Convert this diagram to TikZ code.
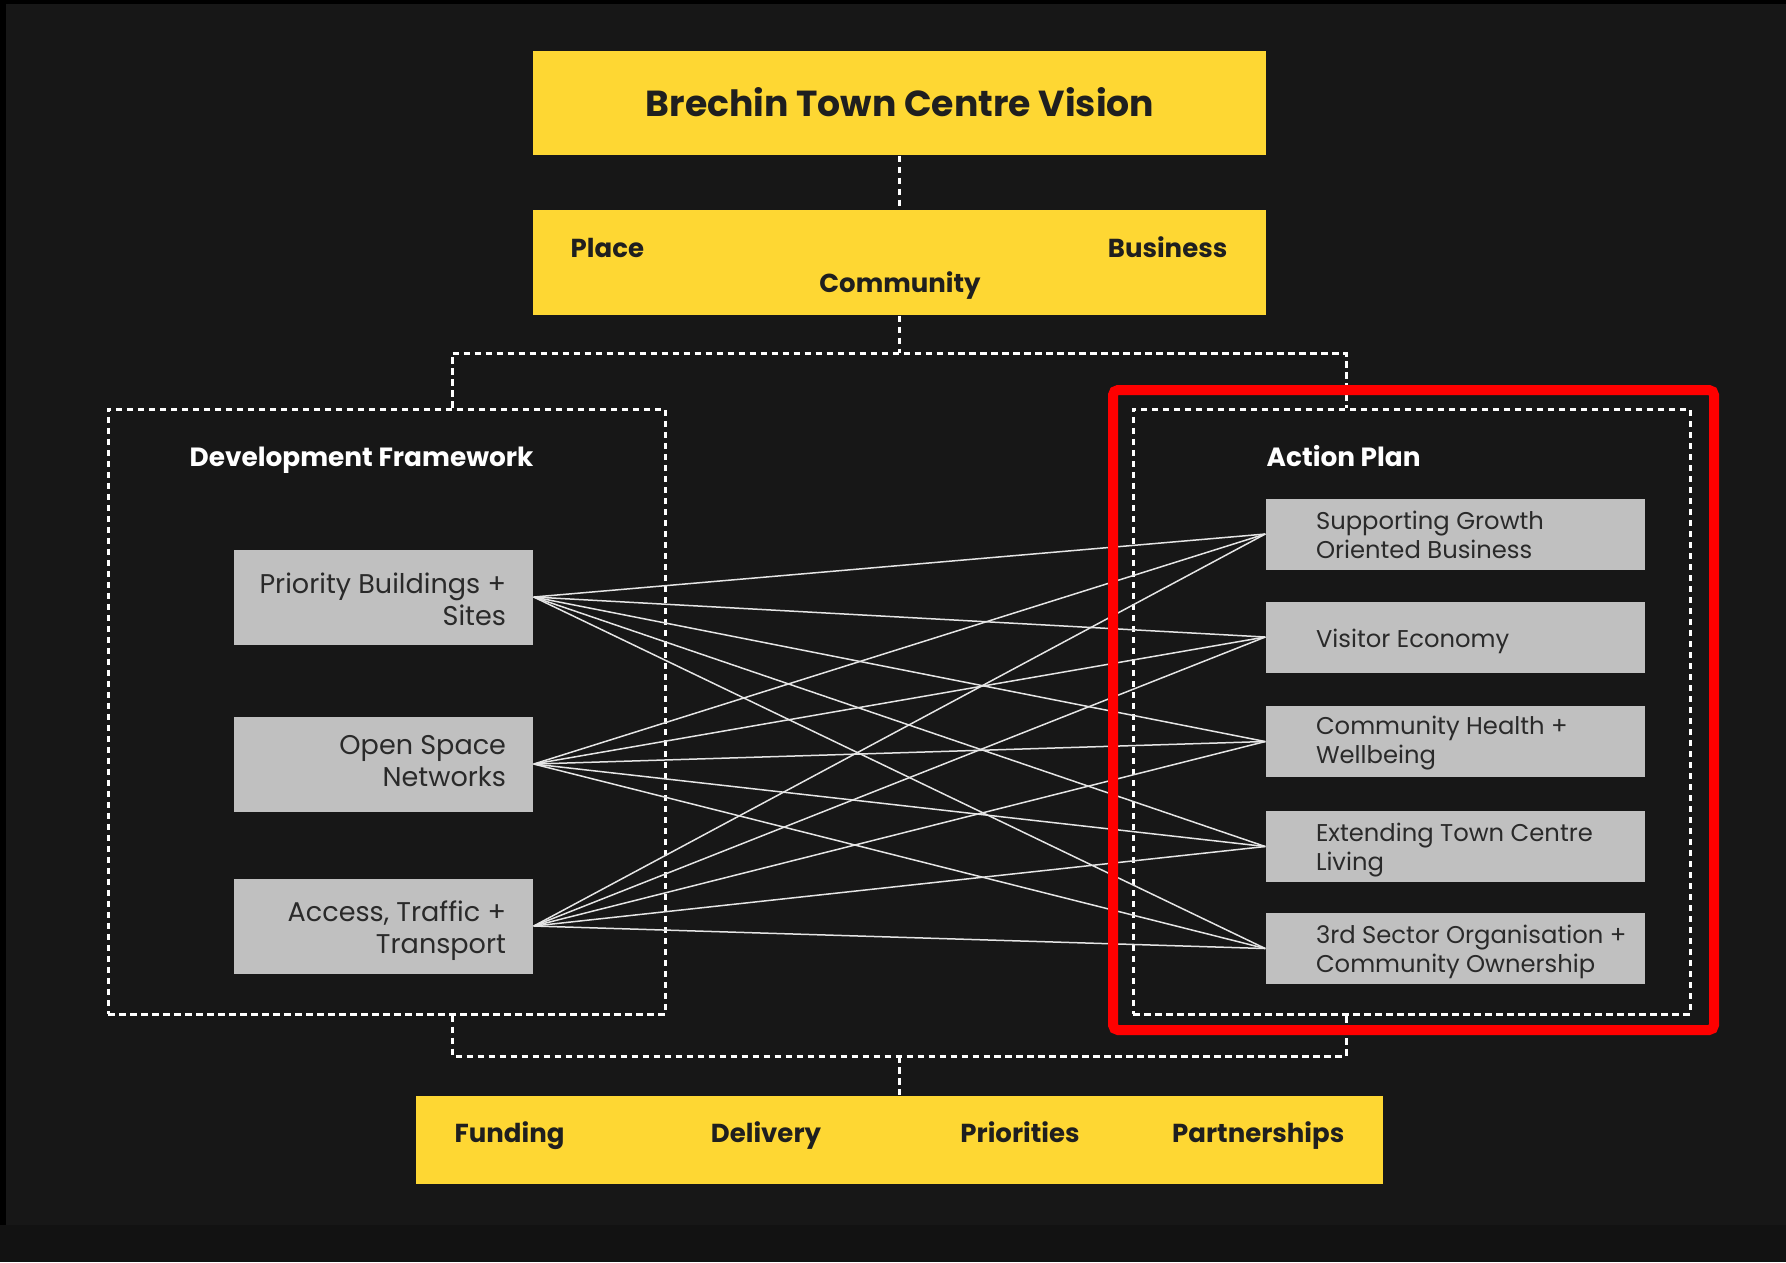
\documentclass[tikz,border=0pt]{standalone}
\usepackage{fontspec}
\setmainfont{Poppins}
\usetikzlibrary{positioning}
\definecolor{fond}{RGB}{23,23,23}
\definecolor{fondbas}{RGB}{18,18,18}
\definecolor{jaune}{RGB}{254,215,51}
\definecolor{gris}{RGB}{192,192,192}
\definecolor{encre}{RGB}{42,42,42}
\definecolor{rouge}{RGB}{255,0,0}
\begin{document}
\begin{tikzpicture}[x=0.1mm,y=-0.1mm,
  jbox/.style={fill=jaune, minimum width=73.3mm, inner sep=0},
  cadre/.style={draw=white, line width=0.3mm, dash pattern=on 0.65mm off 0.45mm, minimum width=55.7mm, minimum height=60.5mm, inner sep=0},
  gauche/.style={fill=gris, minimum width=29.9mm, minimum height=9.5mm, inner sep=0},
  droite/.style={fill=gris, minimum width=37.9mm, minimum height=7.1mm, inner sep=0},
  gtexte/.style={text=encre, align=right, inner sep=0, font=\fontsize{7.7}{9.2}\selectfont},
  dtexte/.style={text=encre, align=left, inner sep=0, font=\fontsize{6.9}{8.2}\selectfont},
  gras/.style={text=black!88, inner sep=0, font=\fontsize{7.4}{9}\selectfont\bfseries},
  titre/.style={text=white, inner sep=0, anchor=base west, font=\fontsize{7.5}{9}\selectfont\bfseries},
  pointille/.style={draw=white, line width=0.3mm, dash pattern=on 0.65mm off 0.45mm},
  lien/.style={draw=white!90!black, line width=0.15mm}]
\useasboundingbox (0,0) rectangle (1786,1262);
\fill[fond] (0,0) rectangle (1786,1225);
\fill[fondbas] (0,1225) rectangle (1786,1262);
\fill[black] (0,0) rectangle (1786,4);
\fill[black] (0,0) rectangle (6,1225);

% yellow boxes
\node[jbox, minimum height=10.4mm] (vision) at (899.5,103) {};
\node[gras, anchor=base, font=\fontsize{10.3}{12}\selectfont\bfseries] (tvision) at (900,116) {Brechin Town Centre Vision};
\node[jbox, minimum height=10.5mm] (pillars) at (899.5,262.5) {};
\node[gras, anchor=base west] (place) at (570,257) {Place};
\node[gras, anchor=base east] (business) at (1228,257) {Business};
\node[gras, anchor=base] (community) at (900,292) {Community};
\node[jbox, minimum width=96.7mm, minimum height=8.8mm] (fund) at (899.5,1140) {};
\node[gras, anchor=base west] (funding) at (454,1142) {Funding};
\node[gras, anchor=base] (delivery) at (766,1142) {Delivery};
\node[gras, anchor=base] (priorities) at (1020,1142) {Priorities};
\node[gras, anchor=base east] (partners) at (1345,1142) {Partnerships};

% dashed frames
\node[cadre] (dev) at (386.5,711.5) {};
\node[cadre] (ap) at (1411.5,711.5) {};
\node[titre] (tdev) at (189,466) {Development Framework};
\node[titre] (tap) at (1266,466) {Action Plan};

% dashed connectors
\coordinate (bg) at (452,353);
\coordinate (bd) at (1346,353);
\coordinate (cg) at (452,1056);
\coordinate (cd) at (1346,1056);
\draw[pointille] (vision.south) -- (pillars.north);
\draw[pointille] (pillars.south) -- (pillars.south |- bg);
\draw[pointille] (bg |- dev.north) -- (bg) -- (bd) -- (bd |- ap.north);
\draw[pointille] (cg |- dev.south) -- (cg) -- (cd) -- (cd |- ap.south);
\draw[pointille] (fund.north |- cg) -- (fund.north);

% framework boxes
\foreach \n/\y/\s/\t in {pb/597/-0.2/{Priority Buildings +\\Sites}, os/764/0.3/{Open Space\\Networks}, at/926/-0.45/{Access, Traffic +\\Transport}}
  {\node[gauche] (\n) at (383.5,\y) {};
   \node[gtexte, left=2.7mm of \n.east, yshift=\s mm] (t\n) {\t};}

% action plan boxes
\foreach \n/\y/\s/\t in {d1/534/-0.1/{Supporting Growth\\Oriented Business}, d2/637/-0.45/{Visitor Economy}, d3/741.5/-0.15/{Community Health +\\Wellbeing}, d4/846.5/-0.35/{Extending Town Centre\\Living}, d5/948.5/-0.35/{3rd Sector Organisation +\\Community Ownership}}
  {\node[droite] (\n) at (1455.5,\y) {};
   \node[dtexte, right=5mm of \n.west, yshift=\s mm] (t\n) {\t};}

\foreach \g in {pb,os,at}
  \foreach \d in {d1,d2,d3,d4,d5}
    \draw[lien] (\g.east) -- (\d.west);

% highlight
\node[draw=rouge, line width=1mm, rounded corners=0.5mm, minimum width=60.1mm, minimum height=64mm, inner sep=0] (focus) at (1413.5,710) {};
\end{tikzpicture}
\end{document}
